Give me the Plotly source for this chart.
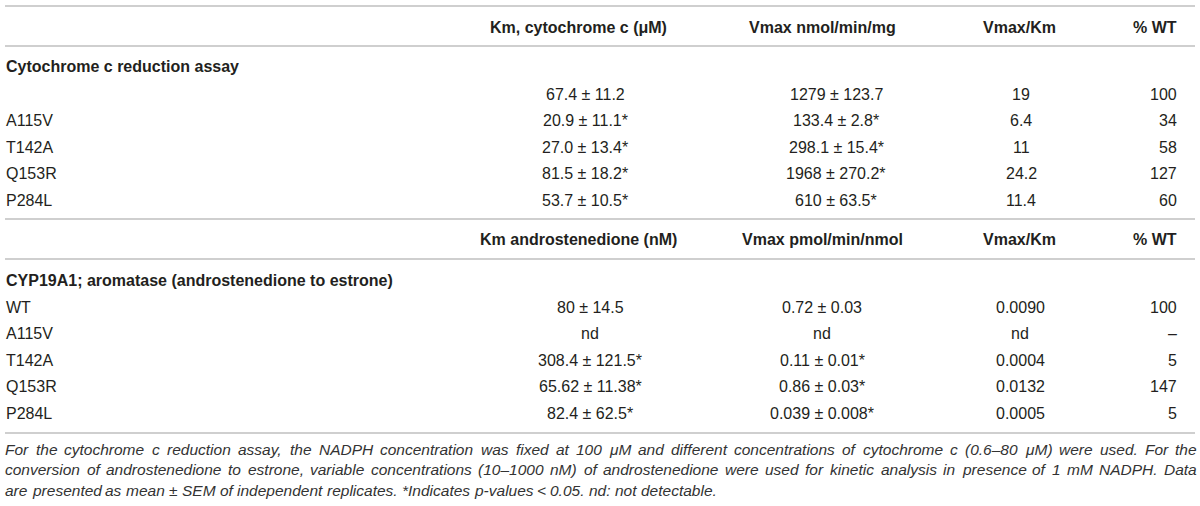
import plotly.graph_objects as go

# column headers for the two blocks
header1 = ["Km, cytochrome c (μM)", "Vmax nmol/min/mg", "Vmax/Km", "% WT"]
header2 = ["Km androstenedione (nM)", "Vmax pmol/min/nmol", "Vmax/Km", "% WT"]

section1 = "Cytochrome c reduction assay"
section2 = "CYP19A1; aromatase (androstenedione to estrone)"

# cytochrome c reduction assay
labels1 = ["", "A115V", "T142A", "Q153R", "P284L"]
km1 = ["67.4 ± 11.2", "20.9 ± 11.1*", "27.0 ± 13.4*", "81.5 ± 18.2*", "53.7 ± 10.5*"]
vmax1 = ["1279 ± 123.7", "133.4 ± 2.8*", "298.1 ± 15.4*", "1968 ± 270.2*", "610 ± 63.5*"]
ratio1 = ["19", "6.4", "11", "24.2", "11.4"]
pct1 = ["100", "34", "58", "127", "60"]

# aromatase
labels2 = ["WT", "A115V", "T142A", "Q153R", "P284L"]
km2 = ["80 ± 14.5", "nd", "308.4 ± 121.5*", "65.62 ± 11.38*", "82.4 ± 62.5*"]
vmax2 = ["0.72 ± 0.03", "nd", "0.11 ± 0.01*", "0.86 ± 0.03*", "0.039 ± 0.008*"]
ratio2 = ["0.0090", "nd", "0.0004", "0.0132", "0.0005"]
pct2 = ["100", "–", "5", "147", "5"]

caption = [
    "For the cytochrome c reduction assay, the NADPH concentration was fixed at 100 μM and different "
    "concentrations of cytochrome c (0.6–80 μM) were used. For the",
    "conversion of androstenedione to estrone, variable concentrations (10–1000 nM) of androstenedione "
    "were used for kinetic analysis in presence of 1 mM NADPH. Data",
    "are presented as mean ± SEM of independent replicates. *Indicates p-values < 0.05. nd: not detectable.",
]

W, H = 1200, 506
FONT = "Liberation Sans, Arial, sans-serif"
INK = "#231f20"
RULE = "#cfcfcf"
CAP_SIZE = 15.5

head_x = [578, 822, 1019, 1179]
val_x = [585, 836, 1021, 1179]
val_x2 = [590, 822, 1020, 1179]
anchors = ["center", "center", "center", "right"]

# Arial / Helvetica advance widths (per 1000 em) for justifying the caption
WIDTHS = {" ": 278, "(": 333, ")": 333, "*": 389, ",": 278, "-": 333, ".": 278, ":": 278,
          "<": 584, "±": 584, "–": 556, "μ": 556}
WIDTHS.update({c: 556 for c in "0123456789"})
WIDTHS.update(dict(zip("ABCDEFGHIJKLMNOPQRSTUVWXYZ",
                       [667, 667, 722, 722, 667, 611, 778, 722, 278, 500, 667, 556, 833,
                        722, 778, 667, 778, 722, 667, 611, 722, 667, 944, 667, 667, 611])))
WIDTHS.update(dict(zip("abcdefghijklmnopqrstuvwxyz",
                       [556, 556, 500, 556, 556, 278, 556, 556, 222, 222, 500, 222, 833,
                        556, 556, 556, 556, 333, 500, 278, 556, 500, 722, 500, 500, 500])))


def width(s, size):
    return sum(WIDTHS.get(c, 556) for c in s) * size / 1000


fig = go.Figure()
fig.add_trace(go.Scatter(x=[0, W], y=[0, H], mode="markers",
                         marker=dict(opacity=0), hoverinfo="skip", showlegend=False))

ann = []


def text(x, y, s, bold=False, anchor="left", size=16, italic=False, color=INK):
    if bold:
        s = "<b>" + s + "</b>"
    if italic:
        s = "<i>" + s + "</i>"
    ann.append(dict(x=x, y=y, text=s, xref="x", yref="y", showarrow=False,
                    xanchor=anchor, yanchor="middle",
                    font=dict(family=FONT, size=size, color=color)))


def block(header, hy, section, sy, labels, cols, vx, y0):
    for h, x, a in zip(header, head_x, anchors):
        text(x, hy, h, bold=True, anchor=a)
    text(4, sy, section, bold=True)
    for i, lab in enumerate(labels):
        y = y0 + i * 26.5
        text(4, y, lab)
        for col, x, a in zip(cols, vx, anchors):
            text(x, y, col[i], anchor=a)


block(header1, 27, section1, 66, labels1, [km1, vmax1, ratio1, pct1], val_x, 94)
block(header2, 239, section2, 280, labels2, [km2, vmax2, ratio2, pct2], val_x2, 307)

# justified caption (last line left aligned)
left, right = 3, 1195
for i, line in enumerate(caption):
    y = 449 + i * 20.5
    words = line.split(" ")
    if i < len(caption) - 1:
        gap = (right - left - sum(width(w, CAP_SIZE) for w in words)) / (len(words) - 1)
    else:
        gap = width(" ", CAP_SIZE)
    x = left
    for w in words:
        text(x, y, w, italic=True, size=CAP_SIZE, color="#333333")
        x += width(w, CAP_SIZE) + gap

shapes = []
for y in [6, 46, 219, 259, 433]:
    shapes.append(dict(type="line", xref="x", yref="y", x0=5, x1=1195, y0=y, y1=y,
                       line=dict(color=RULE, width=2)))

fig.update_layout(
    width=W, height=H,
    margin=dict(l=0, r=0, t=0, b=0),
    paper_bgcolor="white", plot_bgcolor="white",
    xaxis=dict(range=[0, W], visible=False, fixedrange=True),
    yaxis=dict(range=[H, 0], visible=False, fixedrange=True),
    annotations=ann, shapes=shapes,
)

# drop the browser's default body margin so the figure sits at the page corner
fig.write_html("out.html", config={"displayModeBar": False},
               post_script="document.body.style.margin = '0';")
